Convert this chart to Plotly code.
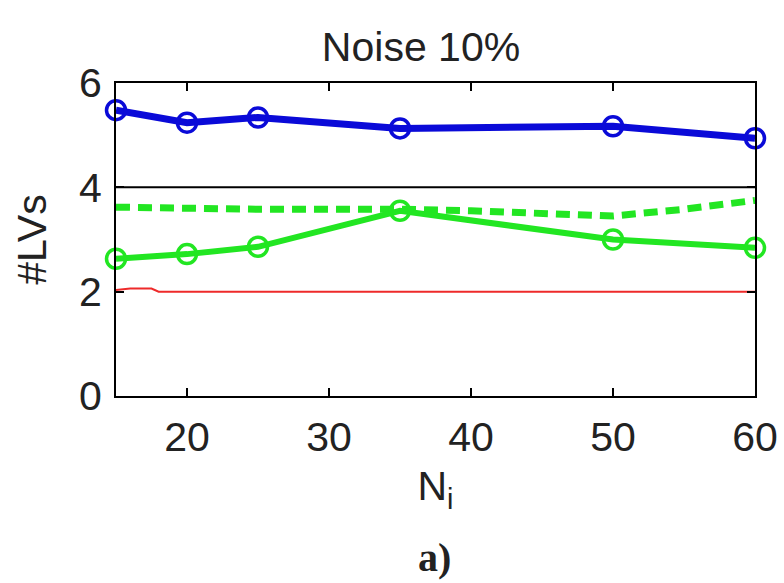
import plotly.graph_objects as go

# Data
n_values = [15, 20, 25, 35, 50, 60]
blue_lvs = [5.48, 5.24, 5.34, 5.13, 5.17, 4.94]
green_lvs = [2.63, 2.72, 2.86, 3.55, 3.0, 2.84]

dashed_x = [15, 20, 25, 35, 40, 50, 55, 60]
dashed_lvs = [3.62, 3.6, 3.58, 3.58, 3.55, 3.45, 3.58, 3.75]

red_x = [15, 16, 17.5, 18, 60]
red_lvs = [2.03, 2.06, 2.06, 2.0, 2.0]

ref_x = [15, 60]
ref_lvs = [4, 4]

x_ticks = [20, 30, 40, 50, 60]
y_ticks = [0, 2, 4, 6]

FONT = "Liberation Sans, Arial, sans-serif"

fig = go.Figure()
fig.add_trace(go.Scatter(x=ref_x, y=ref_lvs, mode="lines",
                         line=dict(color="black", width=2), showlegend=False))
fig.add_trace(go.Scatter(x=red_x, y=red_lvs, mode="lines",
                         line=dict(color="#ee2a2a", width=2), showlegend=False))
fig.add_trace(go.Scatter(x=dashed_x, y=dashed_lvs, mode="lines",
                         line=dict(color="#22e622", width=7, dash="14px,8px"),
                         showlegend=False))
fig.add_trace(go.Scatter(x=n_values, y=green_lvs, mode="lines+markers",
                         line=dict(color="#22e622", width=6),
                         marker=dict(symbol="circle-open", size=19, color="#22e622",
                                     line=dict(width=3.5, color="#22e622")),
                         cliponaxis=False, showlegend=False))
fig.add_trace(go.Scatter(x=n_values, y=blue_lvs, mode="lines+markers",
                         line=dict(color="#0a0ad8", width=7),
                         marker=dict(symbol="circle-open", size=19, color="#0a0ad8",
                                     line=dict(width=3.5, color="#0a0ad8")),
                         cliponaxis=False, showlegend=False))

fig.update_layout(
    width=784, height=583,
    margin=dict(l=116, r=29, t=83, b=187),
    paper_bgcolor="white", plot_bgcolor="white",
    font=dict(family=FONT, size=41, color="#222222"),
    title=dict(text="Noise 10%", x=421 / 784, xanchor="center",
               y=1 - 47 / 583, yanchor="middle", yref="container",
               font=dict(size=41, family=FONT, color="#222222")),
    xaxis=dict(range=[15, 60], tickvals=x_ticks, ticks="inside", ticklen=8,
               tickwidth=2, tickcolor="black", showline=True, linecolor="black",
               linewidth=2, mirror="ticks", showgrid=False, zeroline=False,
               automargin=False,
               tickfont=dict(size=41), ticklabelstandoff=4,
               title=dict(text="N<sub>i</sub>", font=dict(size=41), standoff=12)),
    yaxis=dict(range=[0, 6], tickvals=y_ticks, ticks="inside", ticklen=8,
               tickwidth=2, tickcolor="black", showline=True, linecolor="black",
               linewidth=2, mirror="ticks", showgrid=False, zeroline=False,
               automargin=False,
               tickfont=dict(size=41), ticklabelstandoff=4,
               title=dict(text="#LVs", font=dict(size=41), standoff=20)),
    annotations=[dict(text="<b>a)</b>", x=(434 - 116) / 639,
                      y=(583 - 557 - 187) / (583 - 83 - 187),
                      xref="paper", yref="paper", xanchor="center", yanchor="middle",
                      showarrow=False,
                      font=dict(family="Liberation Serif, Times New Roman, serif",
                                size=40, color="#222222"))],
)
fig.write_html("out.html", config={"displayModeBar": False},
               post_script="document.body.style.margin='0px';document.body.style.overflow='hidden';")
